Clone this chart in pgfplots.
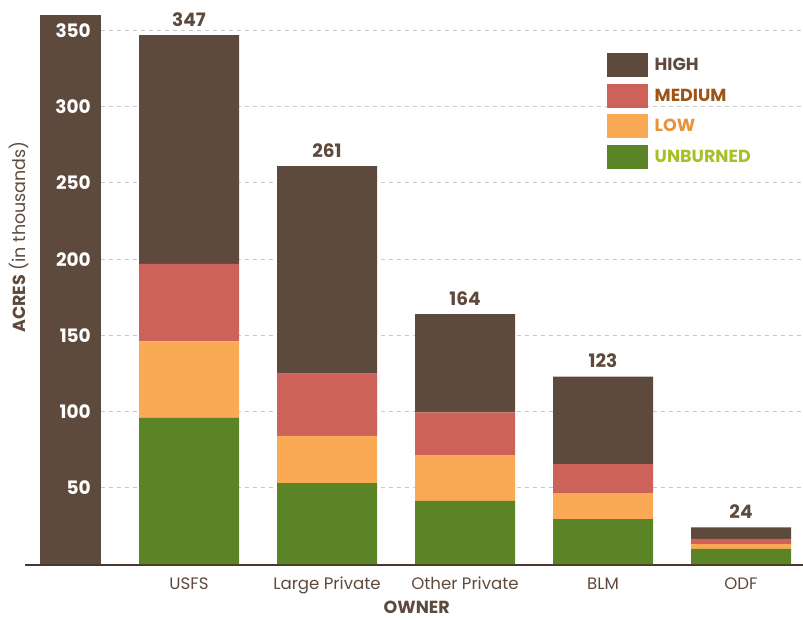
\documentclass[border=0pt]{standalone}
\usepackage{pgfplots}
\pgfplotsset{compat=1.18}
\usepackage{fontspec}
\setmainfont{Poppins}
\definecolor{cHigh}{RGB}{94,74,60}
\definecolor{cMed}{RGB}{204,98,90}
\definecolor{cLow}{RGB}{250,170,85}
\definecolor{cUnb}{RGB}{91,132,39}
\definecolor{tMed}{RGB}{156,85,22}
\definecolor{tLow}{RGB}{232,146,58}
\definecolor{tUnb}{RGB}{170,190,40}
\definecolor{axbrown}{RGB}{74,56,42}
\definecolor{gridgray}{RGB}{200,200,200}
\begin{document}
\begin{tikzpicture}
% background decoration (axis box south west is at the origin, 1pt = 1px;
% value v sits at (v+36.09)/406.17*619 pt)
\fill[cHigh] (40pt,54pt) rectangle (101pt,604pt);
\foreach \yy in {50,100,...,350}{
  \pgfmathsetmacro\yp{(\yy+36.09)/406.17*619}
  \draw[gridgray, dash pattern=on 4pt off 4pt, line width=1pt] (101pt,\yp pt) -- (803pt,\yp pt);
}
\begin{axis}[
  at={(0pt,0pt)}, anchor=south west,
  scale only axis,
  width=803pt, height=619pt,
  xmin=-1.3696, xmax=4.4493,
  ymin=-36.09, ymax=370.08,
  ybar stacked,
  bar width=0.7246,
  axis line style={draw=none},
  major tick length=0pt,
  /pgf/number format/assume math mode=true,
  ytick={50,100,150,200,250,300,350},
  yticklabel style={font=\bfseries\fontsize{18.5}{18.5}\selectfont, text=white, anchor=east, inner sep=0pt, xshift=91pt},
  xtick={0,1,2,3,4},
  xticklabels={USFS, Large Private, Other Private, BLM, ODF},
  xticklabel style={font=\fontsize{16.6}{16.6}\selectfont, text=cHigh, anchor=base, inner sep=0pt, yshift=29.5pt},
  reverse legend,
  legend style={draw=none, fill=none, at={(607pt,566pt)}, anchor=north west,
    inner sep=0pt, row sep=6.6pt, column sep=6.5pt,
    nodes={inner sep=0pt, font=\bfseries\fontsize{17.5}{17.5}\selectfont}},
  legend cell align=left,
  legend image code/.code={\fill[#1] (0pt,-12pt) rectangle (41pt,12pt);},
]
\addplot[fill=cUnb, draw=none] coordinates {(0,96) (1,53) (2,41.5) (3,29.5) (4,10)};
\addplot[fill=cLow, draw=none] coordinates {(0,50) (1,31) (2,30) (3,17) (4,3)};
\addplot[fill=cMed, draw=none] coordinates {(0,51) (1,41) (2,28) (3,19) (4,3.5)};
\addplot[fill=cHigh, draw=none] coordinates {(0,150) (1,136) (2,64.5) (3,57.5) (4,7.5)};
\legend{\textcolor{tUnb}{UNBURNED}, \textcolor{tLow}{LOW}, \textcolor{tMed}{MEDIUM}, \textcolor{cHigh}{HIGH}}
% axis line
\draw[axbrown, line width=2pt] (axis cs:-1.1884,-0.4) -- (axis cs:4.4493,-0.4);
% totals
\node[anchor=base, yshift=9pt, text=cHigh, font=\bfseries\fontsize{18.5}{18.5}\selectfont] at (axis cs:0,347) {347};
\node[anchor=base, yshift=9pt, text=cHigh, font=\bfseries\fontsize{18.5}{18.5}\selectfont] at (axis cs:1,261) {261};
\node[anchor=base, yshift=9pt, text=cHigh, font=\bfseries\fontsize{18.5}{18.5}\selectfont] at (axis cs:2,164) {164};
\node[anchor=base, yshift=9pt, text=cHigh, font=\bfseries\fontsize{18.5}{18.5}\selectfont] at (axis cs:3,123) {123};
\node[anchor=base, yshift=9pt, text=cHigh, font=\bfseries\fontsize{18.5}{18.5}\selectfont] at (axis cs:4,24) {24};
% axis labels
\node[anchor=base, text=cHigh, font=\bfseries\fontsize{17.5}{17.5}\selectfont] at (axis cs:1.65,-32.8) {OWNER};
\node[rotate=90, anchor=base, text=cHigh, font=\fontsize{17.5}{17.5}\selectfont] at (axis cs:-1.183,214.6) {\textbf{ACRES} (in thousands)};
\end{axis}
\pgfresetboundingbox
\useasboundingbox (0pt,0pt) rectangle (803pt,619pt);
\end{tikzpicture}
\end{document}
